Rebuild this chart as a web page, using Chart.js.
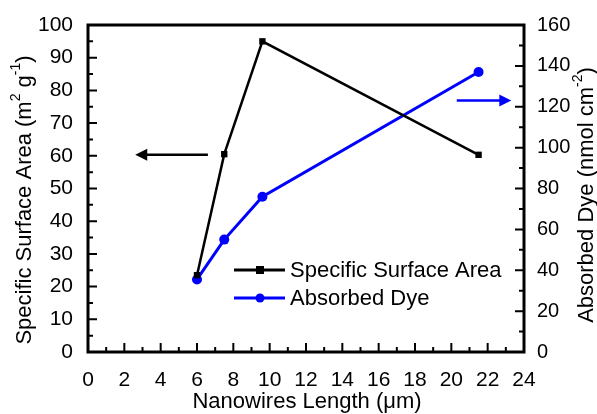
<!DOCTYPE html>
<html>
<head>
<meta charset="utf-8">
<script src="https://cdn.jsdelivr.net/npm/chart.js@4.4.1/dist/chart.umd.min.js"></script>
<style>
  html, body { margin: 0; padding: 0; background: #fff; }
  canvas { display: block; }
</style>
</head>
<body>
<canvas id="chart" width="597" height="414"></canvas>
<script>
// data
const lengths = [6, 7.5, 9.6, 21.5];
const surfaceArea = [23.5, 60.5, 95, 60.3];
const absorbedDye = [35.5, 55, 76, 137];

const xTicks = [0, 2, 4, 6, 8, 10, 12, 14, 16, 18, 20, 22, 24];
const leftTicks = [0, 10, 20, 30, 40, 50, 60, 70, 80, 90, 100];
const rightTicks = [0, 20, 40, 60, 80, 100, 120, 140, 160];

// arrows pointing to each axis (data units)
const leftArrow = { from: 6.6, to: 2.6, y: 60.3 };
const rightArrow = { from: 20.3, to: 23.3, y: 123 };

const FONT = '"Liberation Sans", Arial, sans-serif';

const pts = (ys) => lengths.map((x, i) => ({ x: x, y: ys[i] }));

function arrow(ctx, x1, x2, y, color) {
    const dir = x2 > x1 ? 1 : -1;
    ctx.save();
    ctx.strokeStyle = color;
    ctx.fillStyle = color;
    ctx.lineWidth = 2.5;
    ctx.beginPath();
    ctx.moveTo(x1, y);
    ctx.lineTo(x2 - dir * 10, y);
    ctx.stroke();
    ctx.beginPath();
    ctx.moveTo(x2, y);
    ctx.lineTo(x2 - dir * 12, y - 6);
    ctx.lineTo(x2 - dir * 12, y + 6);
    ctx.closePath();
    ctx.fill();
    ctx.restore();
}

// text with superscripts, parts = [[text, isSup], ...]
function supText(ctx, parts, cx, cy, size) {
    const big = size + 'px ' + FONT;
    const small = Math.round(size * 0.62) + 'px ' + FONT;
    let w = 0;
    parts.forEach(p => { ctx.font = p[1] ? small : big; w += ctx.measureText(p[0]).width; });
    let x = cx - w / 2;
    ctx.textBaseline = 'middle';
    ctx.textAlign = 'left';
    parts.forEach(p => {
        ctx.font = p[1] ? small : big;
        ctx.fillText(p[0], x, p[1] ? cy - size * 0.42 : cy);
        x += ctx.measureText(p[0]).width;
    });
}

const framePlugin = {
    id: 'frame',
    afterDraw(chart) {
        const ctx = chart.ctx;
        const a = chart.chartArea;
        const sx = chart.scales.x, sy = chart.scales.y, sy1 = chart.scales.y1;
        ctx.save();
        ctx.strokeStyle = '#000';
        ctx.lineWidth = 3;
        ctx.strokeRect(a.left, a.top, a.right - a.left, a.bottom - a.top);

        ctx.lineWidth = 2;
        ctx.beginPath();
        // bottom ticks, pointing in
        for (let v = 0; v <= 24; v += 1) {
            const px = sx.getPixelForValue(v);
            const len = v % 2 === 0 ? 9 : 5;
            ctx.moveTo(px, a.bottom);
            ctx.lineTo(px, a.bottom - len);
        }
        // left ticks
        for (let v = 0; v <= 100; v += 5) {
            const py = sy.getPixelForValue(v);
            const len = v % 10 === 0 ? 9 : 5;
            ctx.moveTo(a.left, py);
            ctx.lineTo(a.left + len, py);
        }
        // right ticks
        for (let v = 0; v <= 160; v += 10) {
            const py = sy1.getPixelForValue(v);
            const len = v % 20 === 0 ? 9 : 5;
            ctx.moveTo(a.right, py);
            ctx.lineTo(a.right - len, py);
        }
        ctx.stroke();

        // arrows
        arrow(ctx, sx.getPixelForValue(leftArrow.from), sx.getPixelForValue(leftArrow.to),
            sy.getPixelForValue(leftArrow.y), '#000');
        arrow(ctx, sx.getPixelForValue(rightArrow.from), sx.getPixelForValue(rightArrow.to),
            sy1.getPixelForValue(rightArrow.y), '#0000ff');

        // axis titles
        ctx.fillStyle = '#000';
        ctx.save();
        ctx.translate(25, 200);
        ctx.rotate(-Math.PI / 2);
        supText(ctx, [['Specific Surface Area (m', false], ['2', true], [' g', false], ['-1', true], [')', false]], 0, 0, 22);
        ctx.restore();
        ctx.save();
        ctx.translate(587, 195);
        ctx.rotate(-Math.PI / 2);
        supText(ctx, [['Absorbed Dye (nmol cm', false], ['-2', true], [')', false]], 0, 0, 22);
        ctx.restore();
        supText(ctx, [['Nanowires Length (\u03bcm)', false]], 307, 402, 22);

        // legend
        const rows = [
            { label: 'Specific Surface Area', color: '#000', style: 'rect', y: 270 },
            { label: 'Absorbed Dye', color: '#0000ff', style: 'circle', y: 298 }
        ];
        rows.forEach(r => {
            ctx.strokeStyle = r.color;
            ctx.fillStyle = r.color;
            ctx.lineWidth = 3;
            ctx.beginPath();
            ctx.moveTo(234, r.y);
            ctx.lineTo(285, r.y);
            ctx.stroke();
            if (r.style === 'rect') {
                ctx.fillRect(256, r.y - 4, 8, 8);
            } else {
                ctx.beginPath();
                ctx.arc(260, r.y, 4.5, 0, Math.PI * 2);
                ctx.fill();
            }
            ctx.fillStyle = '#000';
            ctx.font = '22px ' + FONT;
            ctx.textAlign = 'left';
            ctx.textBaseline = 'middle';
            ctx.fillText(r.label, 290, r.y + 1);
        });
        ctx.restore();
    }
};

new Chart(document.getElementById('chart'), {
    type: 'scatter',
    data: {
        datasets: [
            {
                label: 'Specific Surface Area',
                data: pts(surfaceArea),
                yAxisID: 'y',
                showLine: true,
                borderColor: '#000',
                backgroundColor: '#000',
                borderWidth: 2.5,
                pointStyle: 'rect',
                pointRadius: 4.5,
                pointBorderWidth: 0
            },
            {
                label: 'Absorbed Dye',
                data: pts(absorbedDye),
                yAxisID: 'y1',
                showLine: true,
                borderColor: '#0000ff',
                backgroundColor: '#0000ff',
                borderWidth: 3,
                pointStyle: 'circle',
                pointRadius: 5,
                pointBorderWidth: 0
            }
        ]
    },
    options: {
        responsive: false,
        devicePixelRatio: 1,
        animation: false,
        layout: { padding: { top: 25, left: 0, right: 0, bottom: 0 } },
        plugins: { legend: { display: false }, tooltip: { enabled: false } },
        scales: {
            x: {
                type: 'linear',
                min: 0, max: 24,
                afterBuildTicks: s => { s.ticks = xTicks.map(v => ({ value: v })); },
                afterFit: s => { s.height = 62; },
                grid: { display: false },
                border: { display: false },
                ticks: { color: '#000', padding: 8, font: { family: FONT, size: 21 } }
            },
            y: {
                position: 'left',
                min: 0, max: 100,
                afterBuildTicks: s => { s.ticks = leftTicks.map(v => ({ value: v })); },
                afterFit: s => { s.width = 88; },
                grid: { display: false },
                border: { display: false },
                ticks: { color: '#000', padding: 7, font: { family: FONT, size: 21 } }
            },
            y1: {
                position: 'right',
                min: 0, max: 160,
                afterBuildTicks: s => { s.ticks = rightTicks.map(v => ({ value: v })); },
                afterFit: s => { s.width = 73; },
                grid: { display: false },
                border: { display: false },
                ticks: { color: '#000', padding: 5, font: { family: FONT, size: 20 } }
            }
        }
    },
    plugins: [framePlugin]
});
</script>
</body>
</html>
